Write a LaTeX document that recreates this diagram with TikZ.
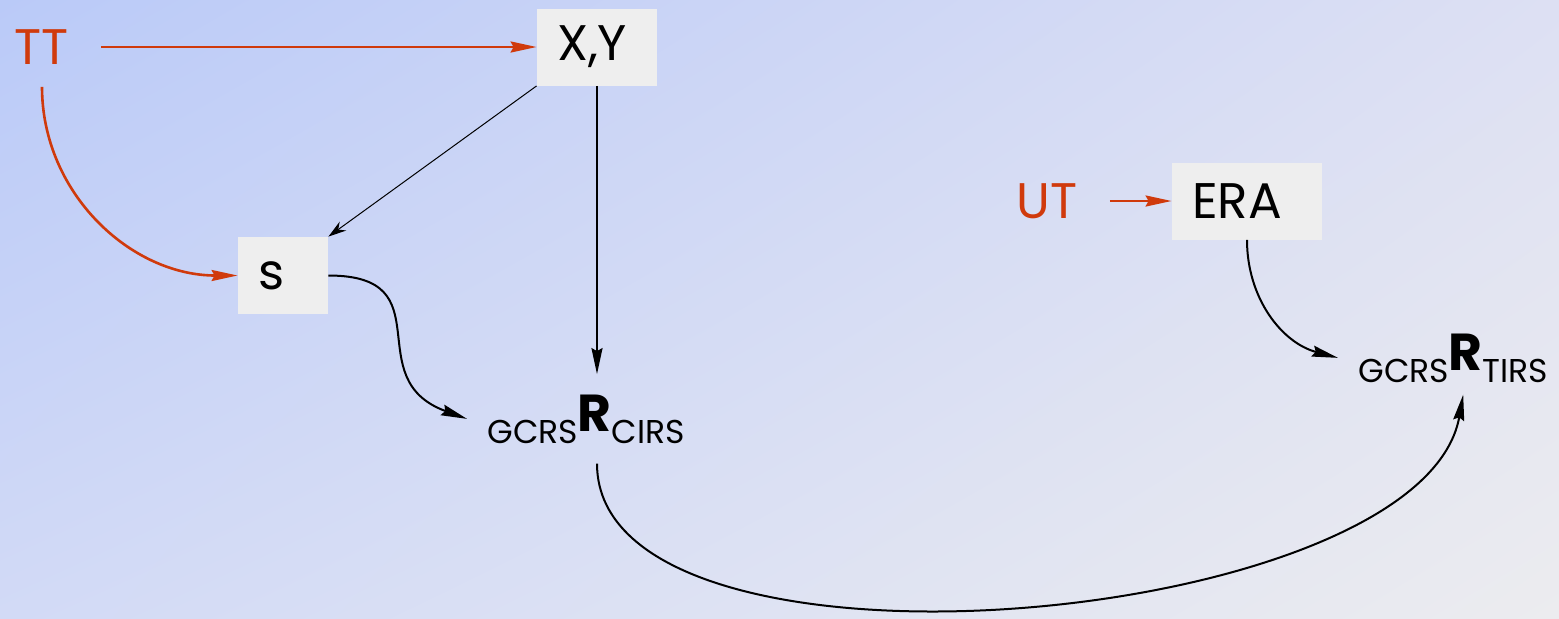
\documentclass[tikz,border=0pt]{standalone}
\usepackage{fontspec}
\setmainfont{Poppins}
\usetikzlibrary{arrows.meta,shadings}
\definecolor{tred}{RGB}{208,58,12}
\definecolor{boxgray}{RGB}{238,238,238}
\definecolor{bgA}{RGB}{186,202,248}
\definecolor{bgB}{RGB}{221,224,243}
\definecolor{bgC}{RGB}{210,218,246}
\definecolor{bgD}{RGB}{236,236,239}
\newcommand{\rmat}[1]{\raisebox{-6pt}{\fontsize{16.5}{18}\selectfont GCRS}{\fontsize{26}{28}\selectfont\bfseries R}\raisebox{-6pt}{\fontsize{16.5}{18}\selectfont #1}}

\begin{document}
\begin{tikzpicture}[x=0.5pt,y=0.5pt,font=\fontsize{25}{30}\selectfont,
  box/.style={fill=boxgray,inner xsep=10pt,align=left,minimum height=38.5pt},
  lbl/.style={text=tred,inner xsep=16pt,inner ysep=11pt},
  redarr/.style={tred,line width=1.3pt,-{Stealth[length=13pt,width=5.5pt,inset=1.5pt]}},
  blkarr/.style={line width=1pt,-{Stealth[length=13pt,width=5.5pt,inset=1.5pt]}},
  thinarr/.style={line width=0.5pt,-{Stealth[length=9pt,width=5.5pt,inset=3pt]}}]
  \useasboundingbox (0,0) rectangle (1559,-618);
  \shade[upper left=bgA,upper right=bgB,lower left=bgC,lower right=bgD] (0,0) rectangle (1559,-618);
  \node[lbl] (tt) at (42,-47) {TT};
  \node[box,text width=40pt] (xy) at (597,-47) {X,Y};
  \node[box,text width=25pt] (s) at (283,-275.5) {s};
  \node[lbl] (ut) at (1047,-201) {UT};
  \node[box,text width=55pt] (era) at (1247,-201) {ERA};
  \node[inner sep=10pt,anchor=base west] (cirs) at (467,-431) {\rmat{CIRS}};
  \node[inner sep=10pt,inner ysep=6pt,anchor=base west] (tirs) at (1338,-370) {\rmat{TIRS}};
  \draw[redarr] (tt) -- (xy);
  \draw[redarr] (tt) to[out=-90,in=180] (s);
  \draw[redarr] (ut) -- (era);
  \draw[thinarr] (xy.south west) -- (s.north east);
  \draw[blkarr] (xy) -- (xy |- cirs.north);
  \draw[blkarr] (s) to[out=0,in=160,looseness=1.5] (cirs.west);
  \draw[blkarr] (era) to[out=-90,in=165] (tirs.west);
  \draw[blkarr] (cirs.south -| xy.south) to[out=-90,in=-100,looseness=0.7] (tirs.-75);
\end{tikzpicture}
\end{document}
